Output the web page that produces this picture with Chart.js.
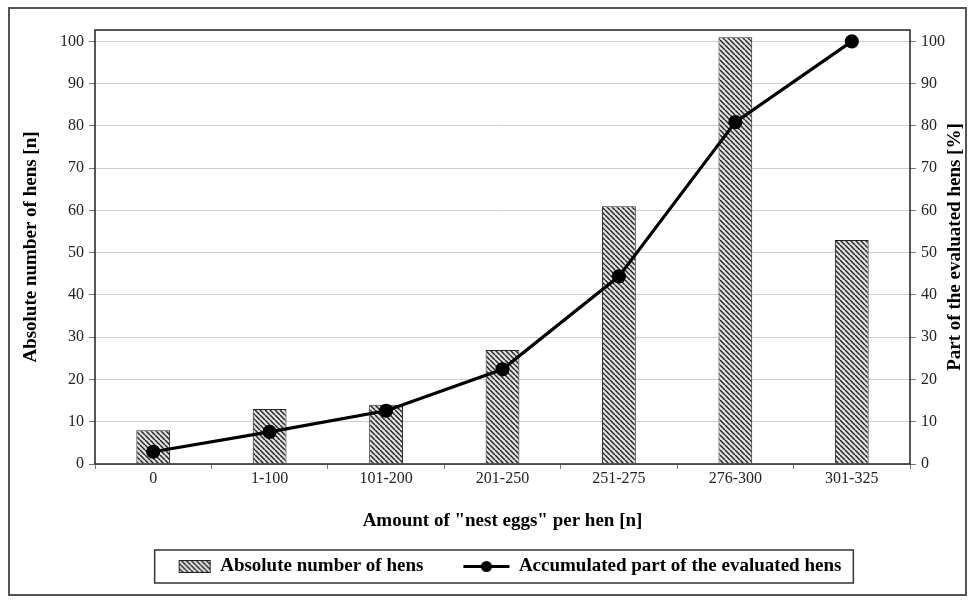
<!DOCTYPE html>
<html>
<head>
<meta charset="utf-8">
<script src="https://cdn.jsdelivr.net/npm/chart.js@4.4.0/dist/chart.umd.min.js"></script>
<style>
  html, body { margin: 0; padding: 0; background: #fff; }
  #wrap { position: relative; width: 976px; height: 607px; }
  #frame { position: absolute; left: 8px; top: 7px; width: 955px; height: 585px; border: 2px solid #555; pointer-events: none; }
  canvas { position: absolute; left: 0; top: 0; }
</style>
</head>
<body>
<div id="wrap">
  <canvas id="chart" width="976" height="607"></canvas>
  <div id="frame"></div>
</div>
<script>
// categories and values
const eggClasses = ['0', '1-100', '101-200', '201-250', '251-275', '276-300', '301-325'];
const henCounts = [8, 13, 14, 27, 61, 101, 53];
const accumulatedPct = [2.9, 7.6, 12.6, 22.4, 44.4, 80.9, 100];
const tickValues = [0, 10, 20, 30, 40, 50, 60, 70, 80, 90, 100];

const serif = '"Liberation Serif", "Times New Roman", serif';
const rightTitle = 'Part of the evaluated hens [%]';

// Hatched fill for the bars ("\\\" lines)
function makeHatch() {
    const s = 5;
    const c = document.createElement('canvas');
    c.width = s;
    c.height = s;
    const g = c.getContext('2d');
    g.fillStyle = '#e2e2e2';
    g.fillRect(0, 0, s, s);
    g.strokeStyle = '#262626';
    g.lineWidth = 1.5;
    for (let k = -1; k <= 1; k++) {
        g.beginPath();
        g.moveTo(k * s, 0);
        g.lineTo(k * s + s, s);
        g.stroke();
    }
    return c.getContext('2d').createPattern(c, 'repeat');
}
const hatch = makeHatch();

// Legend symbols, right aligned in a wider canvas so the items get more room
function barSymbol() {
    const c = document.createElement('canvas');
    c.width = 84;
    c.height = 13;
    const g = c.getContext('2d');
    g.fillStyle = hatch;
    g.fillRect(48, 0, 32, 13);
    g.strokeStyle = '#222';
    g.lineWidth = 1;
    g.strokeRect(48.5, 0.5, 31, 12);
    return c;
}
function lineSymbol() {
    const c = document.createElement('canvas');
    c.width = 84;
    c.height = 13;
    const g = c.getContext('2d');
    g.strokeStyle = '#000';
    g.lineWidth = 3;
    g.beginPath();
    g.moveTo(34, 6.5);
    g.lineTo(80, 6.5);
    g.stroke();
    g.fillStyle = '#000';
    g.beginPath();
    g.arc(57, 6.5, 5.5, 0, Math.PI * 2);
    g.fill();
    return c;
}

// Keep only the round ticks
function roundTicks(scale) {
    scale.ticks = tickValues.map(v => ({ value: v }));
}

// Plot frame, right axis title (reads bottom to top) and legend box
const framePlugin = {
    id: 'frames',
    afterDatasetsDraw(chart) {
        const a = chart.chartArea;
        const ctx = chart.ctx;
        ctx.save();
        ctx.strokeStyle = '#222';
        ctx.lineWidth = 1.5;
        ctx.strokeRect(a.left, a.top, a.right - a.left, a.bottom - a.top);
        ctx.restore();
    },
    afterDraw(chart) {
        const ctx = chart.ctx;
        const a = chart.chartArea;
        ctx.save();
        ctx.translate(955, (a.top + a.bottom) / 2);
        ctx.rotate(-Math.PI / 2);
        ctx.font = 'bold 19px ' + serif;
        ctx.fillStyle = '#000';
        ctx.textAlign = 'center';
        ctx.textBaseline = 'middle';
        ctx.fillText(rightTitle, 0, 0);
        ctx.restore();

        const boxes = chart.legend.legendHitBoxes;
        if (!boxes || !boxes.length) return;
        const left = Math.min(...boxes.map(b => b.left)) + 20;
        const right = Math.max(...boxes.map(b => b.left + b.width)) + 12;
        const top = Math.min(...boxes.map(b => b.top)) - 7;
        const bottom = Math.max(...boxes.map(b => b.top + b.height)) + 7;
        ctx.save();
        ctx.strokeStyle = '#333';
        ctx.lineWidth = 1.5;
        ctx.strokeRect(left, top, right - left, bottom - top);
        ctx.restore();
    }
};

const ctx = document.getElementById('chart').getContext('2d');

new Chart(ctx, {
    data: {
        labels: eggClasses,
        datasets: [
            {
                type: 'bar',
                label: 'Absolute number of hens',
                data: henCounts,
                yAxisID: 'y',
                backgroundColor: hatch,
                borderColor: '#222',
                borderWidth: 1,
                barPercentage: 0.58,
                categoryPercentage: 0.5,
                order: 2
            },
            {
                type: 'line',
                label: 'Accumulated part of the evaluated hens',
                data: accumulatedPct,
                yAxisID: 'y1',
                borderColor: '#000',
                backgroundColor: '#000',
                borderWidth: 3.2,
                pointRadius: 5.5,
                pointHoverRadius: 5.5,
                tension: 0,
                order: 1
            }
        ]
    },
    options: {
        responsive: false,
        animation: false,
        layout: { padding: { top: 30, left: 0, right: 0, bottom: 21 } },
        plugins: {
            tooltip: { enabled: false },
            legend: {
                position: 'bottom',
                labels: {
                    usePointStyle: true,
                    pointStyleWidth: 76,
                    padding: 10,
                    color: '#000',
                    font: { family: serif, size: 19, weight: 'bold' },
                    generateLabels(chart) {
                        return chart.data.datasets.map((ds, i) => ({
                            text: ds.label,
                            pointStyle: i === 0 ? barSymbol() : lineSymbol(),
                            datasetIndex: i,
                            hidden: false,
                            lineWidth: 0,
                            fontColor: '#000'
                        }));
                    }
                }
            }
        },
        scales: {
            x: {
                grid: {
                    drawOnChartArea: false,
                    drawTicks: true,
                    tickLength: 5,
                    color: '#777'
                },
                border: { display: false },
                ticks: {
                    color: '#222',
                    padding: 0,
                    font: { family: serif, size: 16 }
                },
                title: {
                    display: true,
                    text: 'Amount of "nest eggs" per hen [n]',
                    color: '#000',
                    padding: { top: 21, bottom: 15 },
                    font: { family: serif, size: 19, weight: 'bold' }
                }
            },
            y: {
                position: 'left',
                min: 0,
                max: 102.7,
                afterBuildTicks: roundTicks,
                afterFit(scale) { scale.width = 95; },
                grid: {
                    color: '#cfcfcf',
                    lineWidth: 1,
                    tickLength: 6,
                    tickColor: '#777'
                },
                border: { display: false },
                ticks: {
                    color: '#222',
                    padding: 5,
                    font: { family: serif, size: 16 }
                },
                title: {
                    display: true,
                    text: 'Absolute number of hens [n]',
                    color: '#000',
                    padding: { top: 20, bottom: 0 },
                    font: { family: serif, size: 19, weight: 'bold' }
                }
            },
            y1: {
                position: 'right',
                min: 0,
                max: 102.7,
                afterBuildTicks: roundTicks,
                afterFit(scale) { scale.width = 66; },
                grid: {
                    drawOnChartArea: false,
                    tickLength: 6,
                    tickColor: '#777'
                },
                border: { display: false },
                ticks: {
                    color: '#222',
                    padding: 5,
                    font: { family: serif, size: 16 }
                }
            }
        }
    },
    plugins: [framePlugin]
});
</script>
</body>
</html>
